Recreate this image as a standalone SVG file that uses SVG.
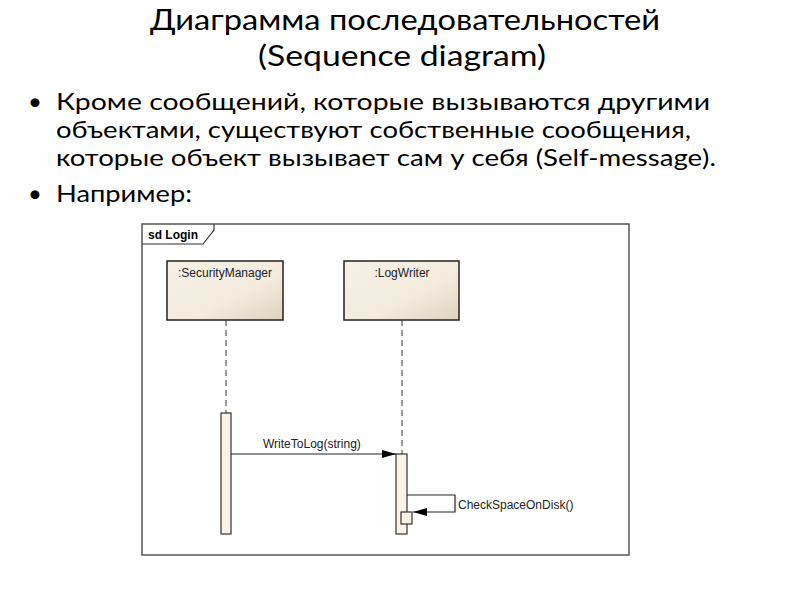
<svg xmlns="http://www.w3.org/2000/svg" width="800" height="600" viewBox="0 0 800 600">
<defs>
<linearGradient id="g" x1="0" y1="0" x2="1" y2="1"><stop offset="0" stop-color="#f7f1e6"/><stop offset="0.6" stop-color="#f2ebde"/><stop offset="1" stop-color="#ddd3c1"/></linearGradient>
<marker id="ah" markerWidth="14" markerHeight="10" refX="14" refY="5" orient="auto" markerUnits="userSpaceOnUse"><path d="M0,1 L14,5 L0,9 Z" fill="#000"/></marker>
<style>
.t{font-family:Lato,"Open Sans",sans-serif;fill:#000}
.s{font-family:"Liberation Sans",Arial,sans-serif;font-size:12px;fill:#222}
.box{fill:url(#g);stroke:#222;stroke-width:1.5}
.act{fill:#fbf3e6;stroke:#333;stroke-width:1.2}
.ll{stroke:#333;stroke-width:1;stroke-dasharray:6,4}
.msg{stroke:#222;stroke-width:1.2;fill:none}
</style>
</defs>
<rect width="800" height="600" fill="#fff"/>
<text class="t" x="150" y="30" font-size="28" textLength="510" lengthAdjust="spacingAndGlyphs">Диаграмма последовательностей</text>
<text class="t" x="258" y="66" font-size="28" textLength="288" lengthAdjust="spacingAndGlyphs">(Sequence diagram)</text>
<g class="t" font-size="24">
<text x="28" y="110">•</text><text x="56" y="110" textLength="654" lengthAdjust="spacingAndGlyphs">Кроме сообщений, которые вызываются другими</text>
<text x="56" y="138" textLength="635" lengthAdjust="spacingAndGlyphs">объектами, существуют собственные сообщения,</text>
<text x="56" y="166" textLength="660" lengthAdjust="spacingAndGlyphs">которые объект вызывает сам у себя (Self-message).</text>
<text x="28" y="202">•</text><text x="56" y="202" textLength="136" lengthAdjust="spacingAndGlyphs">Например:</text>
</g>
<g id="frame">
<rect x="142" y="224" width="487" height="331" fill="none" stroke="#555" stroke-width="1.5"/>
<path d="M142,244 H203 L214,230 V224" fill="none" stroke="#333" stroke-width="1.2"/>
<text x="148" y="239" font-family="Liberation Sans,Arial,sans-serif" font-size="12" font-weight="bold">sd Login</text>
</g>
<g id="securityManager">
<rect class="box" x="167" y="261" width="116" height="59"/>
<text class="s" x="225" y="277" text-anchor="middle">:SecurityManager</text>
<line class="ll" x1="226" y1="320" x2="226" y2="413"/>
<rect class="act" x="221" y="413" width="10" height="121"/>
</g>
<g id="logWriter">
<rect class="box" x="344" y="261" width="115" height="59"/>
<text class="s" x="402" y="277" text-anchor="middle">:LogWriter</text>
<line class="ll" x1="402" y1="320" x2="402" y2="454"/>
<rect class="act" x="396" y="454" width="11" height="80"/>
<rect class="act" x="401" y="512" width="11" height="12"/>
</g>
<g id="connectors">
<line class="msg" x1="231" y1="454" x2="396" y2="454" marker-end="url(#ah)"/>
<text class="s" x="263" y="448">WriteToLog(string)</text>
<path class="msg" d="M407,495 H455 V512 H413" marker-end="url(#ah)"/>
<text class="s" x="458" y="509">CheckSpaceOnDisk()</text>
</g>
</svg>
